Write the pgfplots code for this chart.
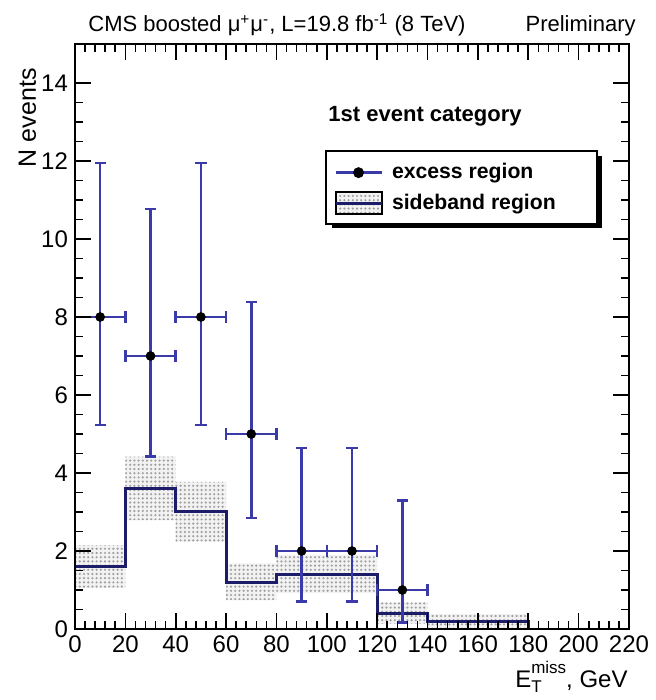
\documentclass[border=0pt]{standalone}
\usepackage{fontspec}
\setmainfont{Liberation Sans}
\usepackage{pgfplots}
\pgfplotsset{compat=1.18}
\usepgfplotslibrary{fillbetween}
\usetikzlibrary{patterns.meta}

\definecolor{datablue}{RGB}{58,58,168}
\definecolor{histnavy}{RGB}{28,28,105}

\tikzset{bandpattern/.style={pattern={Dots[distance=2.1pt,radius=0.6pt]},pattern color=gray!75}}

\begin{document}
\begin{tikzpicture}
\begin{axis}[
  name=ax, at={(0,0)}, anchor=south west,
  scale only axis, width=277pt, height=292.5pt,
  xmin=0, xmax=220, ymin=0, ymax=15,
  xtick={0,20,...,220}, ytick={0,2,...,14},
  minor x tick num=4, minor y tick num=3,
  xtick pos=both, ytick pos=both,
  xticklabel pos=lower, yticklabel pos=left,
  tick align=inside,
  major tick length=8pt, minor tick length=4pt,
  axis line style={line width=1pt},
  every tick/.style={black, line width=0.8pt},
  axis on top,
  tick label style={font=\fontsize{12}{14}\selectfont},
  /pgf/number format/assume math mode=true,
  legend style={at={(axis cs:99.3,12.27)}, anchor=north west,
    draw=black, line width=1pt, fill=white,
    font=\bfseries\fontsize{10.6}{12}\selectfont,
    row sep=2pt, inner xsep=4pt, inner ysep=4pt},
  legend cell align=left,
]
% sideband uncertainty band (upper and lower edges per bin)
\addplot[draw=none, const plot, name path=up, forget plot] coordinates {
  (0,2.15) (20,4.42) (40,3.77) (60,1.68) (80,1.90) (100,1.90)
  (120,0.68) (140,0.38) (160,0.38) (180,0.38)};
\addplot[draw=none, const plot, name path=lo, forget plot] coordinates {
  (0,1.05) (20,2.79) (40,2.24) (60,0.74) (80,0.92) (100,0.92)
  (120,0.13) (140,0.03) (160,0.03) (180,0.03)};
\addplot[fill=gray!10, draw=none, forget plot] fill between[of=up and lo];
\addplot[bandpattern, draw=none, forget plot] fill between[of=up and lo];

% sideband histogram
\addplot[histnavy, line width=1.5pt, const plot, forget plot] coordinates {
  (0,1.6) (20,3.6) (40,3.0) (60,1.2) (80,1.4) (100,1.4)
  (120,0.4) (140,0.2) (160,0.2) (180,0) (200,0)};

% excess region counts with Poisson intervals
\addplot[only marks, mark=*, mark size=2.2pt, mark options={black, fill=black},
  forget plot,
  error bars/.cd,
    x dir=both, x explicit,
    y dir=both, y explicit,
    error bar style={datablue, line width=1.25pt},
    error mark options={rotate=90, mark size=2.8pt, datablue, line width=1.25pt}]
  table[x=x, y=y, x error=ex, y error plus=ep, y error minus=em] {
x   y  ex  ep     em
10  8  10  3.950  2.768
30  7  10  3.770  2.581
50  8  10  3.950  2.768
70  5  10  3.382  2.160
90  2  10  2.638  1.292
110 2  10  2.638  1.292
130 1  10  2.300  0.827
};

% shadow behind the legend frame
\fill[black] (axis cs:102.1,12.14) rectangle (axis cs:209.3,10.29);

\addlegendimage{legend image code/.code={
  \draw[datablue, line width=1.2pt] (0pt,0pt) -- (23pt,0pt);
  \fill[black] (11.5pt,0pt) circle (2.2pt);}}
\addlegendentry{\makebox[99pt][l]{\hspace{2.5pt}excess region}}
\addlegendimage{legend image code/.code={
  \fill[gray!10] (0pt,-5.5pt) rectangle (23pt,5.5pt);
  \fill[bandpattern] (0pt,-5.5pt) rectangle (23pt,5.5pt);
  \draw[histnavy, line width=1.5pt] (0pt,0pt) -- (23pt,0pt);}}
\addlegendentry{\makebox[99pt][l]{\hspace{2.5pt}sideband region}}

\node[anchor=base west, inner sep=0pt, font=\bfseries\fontsize{11}{13}\selectfont]
  at (axis cs:100.5,13.0) {1st event category};
\end{axis}

\node[anchor=base west, inner sep=0pt, font=\fontsize{11}{13}\selectfont]
  at ([xshift=6.5pt, yshift=6pt]ax.north west)
  {CMS boosted μ\textsuperscript{+}μ\textsuperscript{-}, L=19.8 fb\textsuperscript{-1} (8 TeV)};
\node[anchor=base east, inner sep=0pt, font=\fontsize{11}{13}\selectfont]
  at ([xshift=3.5pt, yshift=6pt]ax.north east) {Preliminary};
\node[rotate=90, anchor=base east, inner sep=0pt, font=\fontsize{12.5}{14}\selectfont]
  at ([xshift=-19.5pt, yshift=-12pt]ax.north west) {N events};
\node[anchor=base east, inner sep=0pt, font=\fontsize{12}{14}\selectfont]
  at ([xshift=-0.5pt, yshift=-29pt]ax.south east)
  {E\makebox[0pt][l]{\raisebox{-0.45ex}{\fontsize{8.5}{9}\selectfont T}}\raisebox{1.1ex}{\fontsize{8.5}{9}\selectfont miss}, GeV};
% page extent around the frame
\path (ax.south west) ++(-37.5pt,-35.5pt) rectangle ++(327pt,350pt);
\end{tikzpicture}
\end{document}
